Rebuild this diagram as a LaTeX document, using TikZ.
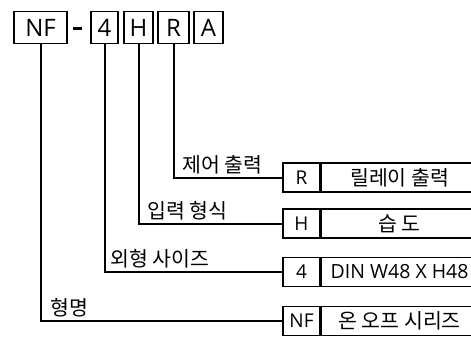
\documentclass[tikz,border=0pt]{standalone}
\usepackage{fontspec}
\setmainfont{Open Sans}
\newfontfamily\kr{Noto Sans CJK KR}
\begin{document}
\begin{tikzpicture}[x=1pt,y=-1pt,
  topbox/.style={draw,line width=1.6pt,minimum height=32pt,inner sep=0pt,font=\fontsize{24}{24}\selectfont},
  keybox/.style={draw,line width=1.6pt,minimum height=29pt,minimum width=37pt,inner sep=0pt,font=\fontsize{19}{19}\selectfont},
  valbox/.style={draw,line width=1.6pt,minimum height=29pt,minimum width=156pt,inner sep=0pt,font=\fontsize{20.5}{20.5}\selectfont\kr},
  lbl/.style={anchor=south west,inner sep=0pt,font=\fontsize{20.5}{20.5}\selectfont\kr},
  conn/.style={line width=2pt}]
\useasboundingbox (0,0) rectangle (471,338);
\clip (0,0) rectangle (471,338);
% top code boxes
\node[topbox,minimum width=53pt] (tNF) at (40.5,27.5) {NF};
\node[fill,inner sep=0pt,minimum width=9pt,minimum height=3pt] (dash) at (77.5,28.5) {};
\node[topbox,minimum width=27pt] (t4) at (104.5,27.5) {4};
\node[topbox,minimum width=29pt] (tH) at (138.5,27.5) {H};
\node[topbox,minimum width=31pt] (tR) at (173.5,27.5) {R};
\node[topbox,minimum width=29pt] (tA) at (208.5,27.5) {A};
% rows
\node[keybox] (kR) at (301.5,177.5) {R};
\node[valbox,anchor=west] (vR) at (kR.east) {릴레이 출력};
\node[keybox] (kH) at (301.5,223.5) {H};
\node[valbox,anchor=west] (vH) at (kH.east) {습 도};
\node[keybox] (k4) at (301.5,272) {4};
\node[valbox,anchor=west,font=\fontsize{19.5}{19.5}\selectfont\rmfamily] (v4) at (k4.east) {DIN W48 X H48};
\node[keybox] (kNF) at (301.5,321) {NF};
\node[valbox,anchor=west] (vNF) at (kNF.east) {온 오프 시리즈};
% connectors
\draw[conn] (tR.south) |- (kR.west);
\draw[conn] (tH.south) |- (kH.west);
\draw[conn] (t4.south) |- (k4.west);
\draw[conn] (tNF.south) |- (kNF.west);
% labels
\node[lbl] (lR) at (182,174.5) {제어 출력};
\node[lbl] (lH) at (147,220.5) {입력 형식};
\node[lbl] (l4) at (110,268.5) {외형 사이즈};
\node[lbl] (lNF) at (50,317.5) {형명};
\end{tikzpicture}
\end{document}
